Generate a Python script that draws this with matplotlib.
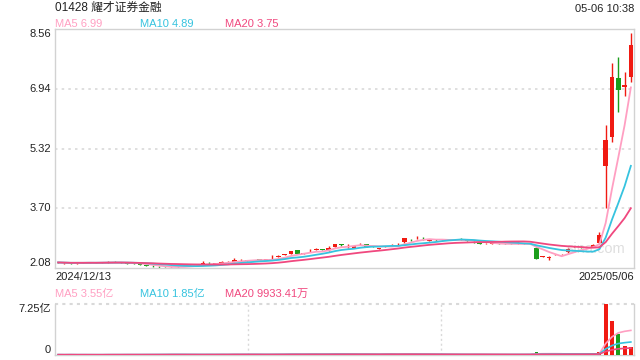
import matplotlib
matplotlib.use("Agg")
import matplotlib.pyplot as plt
import numpy as np
import pandas as pd

plt.rcParams['font.family'] = ['Liberation Sans', 'Noto Sans CJK SC', 'DejaVu Sans']

title = "01428 耀才证券金融"
timestamp = "05-06 10:38"
start_label = "2024/12/13"
end_label = "2025/05/06"
price_ticks = [2.08, 3.70, 5.32, 6.94, 8.56]
price_tick_labels = ["2.08", "3.70", "5.32", "6.94", "8.56"]
vol_ticks = [0, 7.25]
vol_tick_labels = ["0", "7.25亿"]
ma_labels = ["MA5 6.99", "MA10 4.89", "MA20 3.75"]
vol_ma_labels = ["MA5 3.55亿", "MA10 1.85亿", "MA20 9933.41万"]

opens = [2.24, 2.21, 2.22, 2.21, 2.22, 2.22, 2.23, 2.22, 2.23, 2.25,
         2.24, 2.22, 2.20, 2.19, 2.16, 2.14, 2.12, 2.11, 2.08, 2.12,
         2.14, 2.15, 2.16, 2.19, 2.22, 2.20, 2.22, 2.23, 2.25, 2.29,
         2.29, 2.28, 2.31, 2.30, 2.31, 2.39, 2.44, 2.47, 2.57, 2.47,
         2.53, 2.57, 2.58, 2.56, 2.65, 2.73, 2.64, 2.62, 2.72, 2.72,
         2.67, 2.60, 2.65, 2.70, 2.72, 2.78, 2.85, 2.88, 2.87, 2.82,
         2.84, 2.83, 2.84, 2.85, 2.87, 2.83, 2.79, 2.75, 2.73, 2.74,
         2.74, 2.74, 2.74, 2.73, 2.73, 2.74, 2.63, 2.39, 2.36, 2.45,
         2.45, 2.51, 2.65, 2.66, 2.63, 2.65, 2.75, 4.85, 5.64, 7.22,
         7.00, 7.25]
closes = [2.23, 2.22, 2.21, 2.22, 2.22, 2.23, 2.22, 2.23, 2.24, 2.24,
          2.23, 2.20, 2.19, 2.17, 2.14, 2.13, 2.10, 2.10, 2.09, 2.13,
          2.14, 2.15, 2.16, 2.21, 2.21, 2.21, 2.23, 2.25, 2.31, 2.30,
          2.28, 2.29, 2.30, 2.31, 2.33, 2.40, 2.45, 2.54, 2.46, 2.48,
          2.54, 2.58, 2.57, 2.63, 2.73, 2.70, 2.65, 2.68, 2.73, 2.66,
          2.66, 2.61, 2.66, 2.71, 2.73, 2.89, 2.84, 2.89, 2.86, 2.83,
          2.83, 2.84, 2.85, 2.84, 2.86, 2.82, 2.77, 2.74, 2.74, 2.74,
          2.73, 2.73, 2.73, 2.74, 2.74, 2.73, 2.33, 2.39, 2.38, 2.45,
          2.45, 2.60, 2.65, 2.65, 2.64, 2.70, 2.97, 5.55, 7.25, 6.90,
          7.05, 8.13]
highs = [2.25, 2.23, 2.23, 2.23, 2.24, 2.24, 2.24, 2.25, 2.26, 2.27,
         2.25, 2.23, 2.21, 2.20, 2.17, 2.16, 2.13, 2.12, 2.10, 2.15,
         2.16, 2.17, 2.18, 2.26, 2.23, 2.22, 2.27, 2.26, 2.36, 2.32,
         2.30, 2.31, 2.32, 2.32, 2.42, 2.42, 2.47, 2.55, 2.58, 2.50,
         2.60, 2.61, 2.59, 2.67, 2.74, 2.74, 2.73, 2.69, 2.75, 2.73,
         2.68, 2.62, 2.68, 2.72, 2.76, 2.90, 2.86, 2.94, 2.92, 2.85,
         2.86, 2.85, 2.86, 2.86, 2.88, 2.84, 2.80, 2.76, 2.75, 2.75,
         2.75, 2.75, 2.75, 2.81, 2.76, 2.75, 2.64, 2.41, 2.40, 2.46,
         2.46, 2.62, 2.67, 2.69, 2.66, 2.72, 3.05, 5.96, 7.65, 7.79,
         7.39, 8.44]
lows = [2.22, 2.20, 2.20, 2.20, 2.21, 2.21, 2.21, 2.21, 2.22, 2.23,
        2.22, 2.19, 2.18, 2.16, 2.13, 2.12, 2.09, 2.08, 2.08, 2.11,
        2.13, 2.14, 2.15, 2.18, 2.20, 2.19, 2.21, 2.22, 2.24, 2.28,
        2.27, 2.27, 2.29, 2.29, 2.30, 2.38, 2.43, 2.46, 2.45, 2.46,
        2.52, 2.56, 2.56, 2.55, 2.64, 2.69, 2.63, 2.61, 2.71, 2.64,
        2.65, 2.59, 2.64, 2.69, 2.71, 2.77, 2.82, 2.87, 2.85, 2.81,
        2.82, 2.82, 2.83, 2.83, 2.85, 2.81, 2.76, 2.73, 2.72, 2.73,
        2.72, 2.72, 2.72, 2.72, 2.72, 2.72, 2.32, 2.37, 2.31, 2.44,
        2.44, 2.50, 2.64, 2.63, 2.62, 2.64, 2.74, 3.71, 5.50, 6.30,
        6.73, 7.12]
volumes = [0.05, 0.04, 0.06, 0.03, 0.05, 0.04, 0.03, 0.05, 0.08, 0.06,
           0.05, 0.07, 0.06, 0.05, 0.08, 0.06, 0.07, 0.09, 0.12, 0.08,
           0.05, 0.04, 0.05, 0.06, 0.10, 0.05, 0.08, 0.07, 0.15, 0.09,
           0.06, 0.07, 0.05, 0.06, 0.12, 0.10, 0.11, 0.16, 0.14, 0.08,
           0.12, 0.10, 0.07, 0.11, 0.18, 0.12, 0.09, 0.08, 0.10, 0.11,
           0.07, 0.05, 0.15, 0.14, 0.08, 0.16, 0.09, 0.12, 0.10, 0.07,
           0.06, 0.05, 0.06, 0.08, 0.07, 0.09, 0.10, 0.08, 0.06, 0.05,
           0.06, 0.05, 0.07, 0.09, 0.08, 0.12, 0.45, 0.15, 0.12, 0.08,
           0.07, 0.18, 0.10, 0.09, 0.12, 0.20, 0.47, 7.25, 4.83, 2.99,
           1.28, 1.14]

RED = "#f01a12"
GREEN = "#1b9e1b"
MA_COLORS = ["#ff9fc2", "#36c3df", "#f0487f"]
FRAME = "#d2d2d2"
GRID = "#d9d9d9"

o = np.array(opens); c = np.array(closes); h = np.array(highs); l = np.array(lows)
v = np.array(volumes)
n = len(c)
x = np.arange(n)
up = c >= o
cols = np.where(up, RED, GREEN)

W, H = 640, 360
fig = plt.figure(figsize=(6.4, 3.6), dpi=100)
ax = fig.add_axes([55 / W, (H - 268) / H, (634 - 55) / W, (268 - 29) / H])
axv = fig.add_axes([55 / W, (H - 355) / H, (634 - 55) / W, (355 - 304) / H])

# --- main price chart ---
ax.set_xlim(-0.5, n - 0.5)
ax.set_ylim(price_ticks[0], price_ticks[-1])
for t in price_ticks[1:-1]:
    ax.axhline(t, color=GRID, lw=1.2, ls=(0, (1.5, 2.5)), zorder=0)
ax.text(0.985, 0.08, "sina.com", transform=ax.transAxes, ha="right", va="center",
        fontsize=10.5, color="#dedede", zorder=0.5)
ax.vlines(x, l, h, colors=cols, lw=1.0, zorder=2)
body = np.maximum(np.abs(c - o), 0.012)
ax.bar(x, body, bottom=np.minimum(o, c), width=0.74, color=cols, lw=0, zorder=3)
cs = pd.Series(c)
for win, col in zip([5, 10, 20], MA_COLORS):
    ax.plot(x, cs.rolling(win, min_periods=1).mean(), color=col, lw=1.3, zorder=4)
ax.set_xticks([]); ax.set_yticks([])
for s in ax.spines.values():
    s.set_color(FRAME); s.set_linewidth(1.0)

for t, lab in zip(price_ticks, price_tick_labels):
    va = "center"
    if t == price_ticks[0]:
        va = "bottom"
    elif t == price_ticks[-1]:
        va = "top"
    ax.annotate(lab, xy=(0, t), xycoords=("axes fraction", "data"), xytext=(-3, 0),
                textcoords="offset points", ha="right", va=va, fontsize=8, color="#222222")

# --- volume chart ---
axv.set_xlim(-0.5, n - 0.5)
axv.set_ylim(vol_ticks[0], vol_ticks[-1])
axv.bar(x, v, width=0.62, color=cols, lw=0, zorder=3)
vs = pd.Series(v)
for win, col in zip([5, 10, 20], MA_COLORS):
    axv.plot(x, vs.rolling(win, min_periods=1).mean(), color=col, lw=1.2, zorder=4)
axv.axhline(vol_ticks[-1], color=GRID, lw=1.5, ls=(0, (1.5, 2.0)), zorder=1, clip_on=False)
for frac in (1 / 3, 2 / 3):
    axv.axvline(-0.5 + frac * n, color=GRID, lw=1.0, ls=(0, (1.5, 2.0)), zorder=1)
axv.set_xticks([]); axv.set_yticks([])
for k, s in axv.spines.items():
    s.set_color(FRAME); s.set_linewidth(1.0)
axv.spines["top"].set_visible(False)
for t, lab in zip(vol_ticks, vol_tick_labels):
    va = "bottom" if t == vol_ticks[0] else "top"
    axv.annotate(lab, xy=(0, t), xycoords=("axes fraction", "data"), xytext=(-3, 0),
                 textcoords="offset points", ha="right", va=va, fontsize=8, color="#222222")

# --- texts ---
fig.text(55 / W, 1 - 8 / H, title, ha="left", va="center", fontsize=8.5, color="#222222")
fig.text(634 / W, 1 - 9 / H, timestamp, ha="right", va="center", fontsize=8, color="#222222")
for xpos, lab, col in zip([55, 140, 225], ma_labels, MA_COLORS):
    fig.text(xpos / W, 1 - 24 / H, lab, ha="left", va="center", fontsize=8, color=col)
for xpos, lab, col in zip([55, 140, 225], vol_ma_labels, MA_COLORS):
    fig.text(xpos / W, 1 - 294 / H, lab, ha="left", va="center", fontsize=8, color=col)
fig.text(55 / W, 1 - 277 / H, start_label, ha="left", va="center", fontsize=8, color="#222222")
fig.text(634 / W, 1 - 277 / H, end_label, ha="right", va="center", fontsize=8, color="#222222")

fig.savefig("out.png", dpi=100)
